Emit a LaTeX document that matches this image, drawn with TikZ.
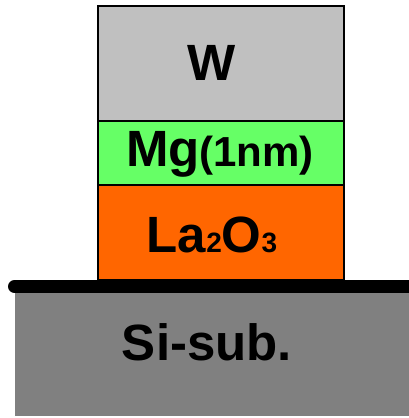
\documentclass[tikz,border=0pt]{standalone}
\usepackage{fontspec}
\setmainfont{Liberation Sans}
\definecolor{wgray}{HTML}{C0C0C0}
\definecolor{mggreen}{HTML}{66FF66}
\definecolor{laorange}{HTML}{FF6600}
\definecolor{sigray}{HTML}{808080}
\begin{document}
\begin{tikzpicture}[x=1pt,y=-1pt,
  layerbox/.style={draw=black, line width=2pt, inner sep=0pt, minimum width=246pt},
  lbl/.style={font=\fontsize{51}{51}\selectfont\bfseries, inner sep=0pt, anchor=base}]
\useasboundingbox (0,0) rectangle (408,418);
% substrate
\node[fill=sigray, inner sep=0pt, minimum width=395pt, minimum height=124pt] (si) at (212.5,354) {};
% layers
\node[layerbox, fill=wgray, minimum height=114.5pt] (w) at (221,63.5) {};
\node[layerbox, fill=mggreen, minimum height=64.5pt] (mg) at (221,152.75) {};
\node[layerbox, fill=laorange, minimum height=95pt] (la) at (221,232.5) {};
% interface bar
\coordinate (barL) at (14.5,286.5);
\coordinate (barR) at (412,286.5);
\draw[line width=13pt, line cap=round] (barL) -- (barR);
% labels
\node[lbl] (wt) at (212,80) {W};
\node[lbl] (mgt) at (220,166) {Mg{\fontsize{42}{42}\selectfont(1nm)}};
\node[lbl] (lat) at (212,252) {La{\fontsize{28}{28}\selectfont 2}O{\fontsize{28}{28}\selectfont 3}};
\node[lbl] (sit) at (207,360) {Si-sub.};
\end{tikzpicture}
\end{document}
